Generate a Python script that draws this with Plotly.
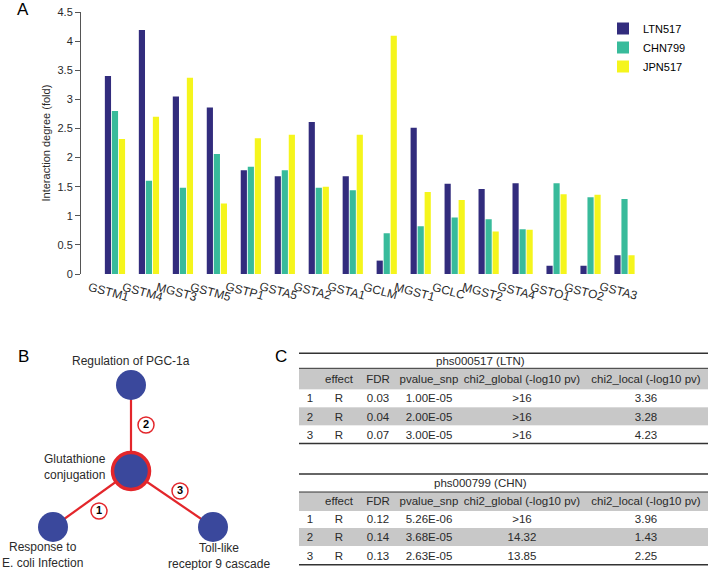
import plotly.graph_objects as go

W, H = 708, 570

# ---------------- Panel A data ----------------
genes = ["GSTM1", "GSTM4", "MGST3", "GSTM5", "GSTP1", "GSTA5", "GSTA2", "GSTA1",
         "GCLM", "MGST1", "GCLC", "MGST2", "GSTA4", "GSTO1", "GSTO2", "GSTA3"]
ltn517 = [3.40, 4.19, 3.05, 2.86, 1.78, 1.68, 2.61, 1.68, 0.23, 2.51, 1.55, 1.46, 1.56, 0.14, 0.14, 0.32]
chn799 = [2.80, 1.60, 1.48, 2.06, 1.84, 1.78, 1.48, 1.44, 0.70, 0.82, 0.97, 0.94, 0.77, 1.56, 1.32, 1.29]
jpn517 = [2.32, 2.70, 3.37, 1.21, 2.33, 2.39, 1.50, 2.39, 4.09, 1.41, 1.27, 0.73, 0.76, 1.37, 1.36, 0.32]
series_names = ["LTN517", "CHN799", "JPN517"]

# ---------------- Panel B data (network layout) ----------------
pathways = ["Regulation of PGC-1a", "Glutathione<br>conjugation",
            "Response to<br>E. coli Infection", "Toll-like<br>receptor 9 cascade"]
node_x = [0, 0, -78, 82]
node_y = [86, 0, -56, -56]
edge_src = [1, 1, 1]
edge_dst = [2, 0, 3]
edge_labels = ["1", "2", "3"]
edge_label_x = [-32, 15, 49]
edge_label_y = [-40, 46, -20]
label_x = [0, -56, -89, 88]
label_y = [110, 4, -84, -84.5]

# ---------------- Panel C data ----------------
table_cols = ["", "effect", "FDR", "pvalue_snp", "chi2_global (-log10 pv)", "chi2_local (-log10 pv)"]
ltn_title = "phs000517 (LTN)"
ltn_rank = ["1", "2", "3"]
ltn_effect = ["R", "R", "R"]
ltn_fdr = ["0.03", "0.04", "0.07"]
ltn_pvalue = ["1.00E-05", "2.00E-05", "3.00E-05"]
ltn_chi2_global = [">16", ">16", ">16"]
ltn_chi2_local = ["3.36", "3.28", "4.23"]
chn_title = "phs000799 (CHN)"
chn_rank = ["1", "2", "3"]
chn_effect = ["R", "R", "R"]
chn_fdr = ["0.12", "0.14", "0.13"]
chn_pvalue = ["5.26E-06", "3.68E-05", "2.63E-05"]
chn_chi2_global = [">16", "14.32", "13.85"]
chn_chi2_local = ["3.96", "1.43", "2.25"]

# ---------------- styles / layout constants ----------------
FONT = "Liberation Sans, Arial, sans-serif"
TXT = "#2a2a2a"
C_LTN, C_CHN, C_JPN = "#322c7d", "#38bb9b", "#f5f51c"
NODE = "#3a489c"
RED = "#e3262b"
GREY = "#c8c8c8"
col_edges = [299, 321, 357, 399, 459, 584, 708]          # table column boundaries (px)
t1_rows = [368.3, 389.3, 407.3, 425.7, 443.3]             # table 1 row boundaries (px)
t2_rows = [492, 510.7, 528, 546.3, 564.7]                 # table 2 row boundaries (px)
row_shade = [1, 0, 1, 0]                                  # header grey, then white/grey/white


def px(x):
    return x / W


def py(y):
    return 1 - y / H


fig = go.Figure()

# Panel A bars
for name, vals, col in zip(series_names, [ltn517, chn799, jpn517], [C_LTN, C_CHN, C_JPN]):
    fig.add_trace(go.Bar(x=genes, y=vals, name=name, marker=dict(color=col, line=dict(width=0)),
                         xaxis="x", yaxis="y"))

annotations = []
for g in genes:
    annotations.append(dict(x=g, y=0, xref="x", yref="y", text=g, showarrow=False,
                            textangle=15, xanchor="center", yanchor="top", yshift=-3, xshift=-6,
                            font=dict(family=FONT, size=12, color=TXT)))
annotations.append(dict(x=px(45.5), y=py(143), xref="paper", yref="paper",
                        text="Interaction degree (fold)", textangle=-90, showarrow=False,
                        xanchor="center", yanchor="middle",
                        font=dict(family=FONT, size=11, color=TXT)))

# Panel B network
for s, d in zip(edge_src, edge_dst):
    fig.add_trace(go.Scatter(x=[node_x[s], node_x[d]], y=[node_y[s], node_y[d]], mode="lines",
                             line=dict(color=RED, width=2.2), xaxis="x2", yaxis="y2",
                             showlegend=False, hoverinfo="skip"))
fig.add_trace(go.Scatter(x=node_x, y=node_y, mode="markers", xaxis="x2", yaxis="y2",
                         marker=dict(color=NODE, size=[30, 37, 30, 30], opacity=1,
                                     line=dict(color=[NODE, RED, NODE, NODE], width=[0, 3.5, 0, 0])),
                         showlegend=False, text=pathways, hoverinfo="text"))
fig.add_trace(go.Scatter(x=edge_label_x, y=edge_label_y, mode="markers+text", xaxis="x2", yaxis="y2",
                         text=["<b>%s</b>" % t for t in edge_labels], textposition="middle center",
                         textfont=dict(family=FONT, size=11, color="black"),
                         marker=dict(color="white", size=16, opacity=1, line=dict(color=RED, width=1.5)),
                         showlegend=False, hoverinfo="skip"))
for t, lx, ly in zip(pathways, label_x, label_y):
    annotations.append(dict(x=lx, y=ly, xref="x2", yref="y2", text=t, showarrow=False,
                            xanchor="center", yanchor="middle",
                            font=dict(family=FONT, size=12, color=TXT)))


# Panel C tables (heatmap cells with text)
def add_table(cols, row_edges):
    rows = [table_cols] + [list(r) for r in zip(*cols)]
    z = [[shade] * len(table_cols) for shade in row_shade]
    fig.add_trace(go.Heatmap(
        x=col_edges, y=row_edges, z=z, text=rows, texttemplate="%{text}",
        textfont=dict(family=FONT, size=11.5, color=TXT),
        colorscale=[[0, "white"], [1, GREY]], zmin=0, zmax=1, showscale=False,
        hoverinfo="skip", xaxis="x3", yaxis="y3"))


add_table([ltn_rank, ltn_effect, ltn_fdr, ltn_pvalue, ltn_chi2_global, ltn_chi2_local], t1_rows)
add_table([chn_rank, chn_effect, chn_fdr, chn_pvalue, chn_chi2_global, chn_chi2_local], t2_rows)

shapes = []
for y, w in [(353.3, 1.6), (368.3, 1.0), (443.5, 1.6), (474, 1.6), (492, 1.0), (564.7, 1.6)]:
    shapes.append(dict(type="line", xref="paper", yref="paper", x0=px(299), x1=1, y0=py(y), y1=py(y),
                       line=dict(color="#333333", width=w)))

annotations += [
    dict(x=px(480), y=py(360.5), xref="paper", yref="paper", text=ltn_title, showarrow=False,
         xanchor="center", yanchor="middle", font=dict(family=FONT, size=11.5, color=TXT)),
    dict(x=px(480), y=py(482.5), xref="paper", yref="paper", text=chn_title, showarrow=False,
         xanchor="center", yanchor="middle", font=dict(family=FONT, size=11.5, color=TXT)),
    dict(x=px(23), y=py(9), xref="paper", yref="paper", text="A", showarrow=False,
         xanchor="center", yanchor="middle", font=dict(family=FONT, size=17, color="black")),
    dict(x=px(23), y=py(356.5), xref="paper", yref="paper", text="B", showarrow=False,
         xanchor="center", yanchor="middle", font=dict(family=FONT, size=17, color="black")),
    dict(x=px(281), y=py(357), xref="paper", yref="paper", text="C", showarrow=False,
         xanchor="center", yanchor="middle", font=dict(family=FONT, size=17, color="black")),
]

fig.update_layout(
    width=W, height=H, margin=dict(l=0, r=0, t=0, b=0, autoexpand=False),
    paper_bgcolor="white", plot_bgcolor="rgba(0,0,0,0)",
    barmode="group", bargap=0.38, bargroupgap=0.12,
    font=dict(family=FONT, size=11, color=TXT),
    xaxis=dict(domain=[px(81), px(641.5)], range=[-1, 15.5], showticklabels=False, automargin=False,
               showline=False, showgrid=False, zeroline=False, ticks=""),
    yaxis=dict(domain=[py(274), py(12)], range=[0, 4.5], dtick=0.5, showline=True, automargin=False,
               linecolor="#555555", linewidth=1, ticks="outside", ticklen=5, tickcolor="#555555",
               showgrid=False, zeroline=False, tickfont=dict(family=FONT, size=11, color=TXT)),
    xaxis2=dict(domain=[0, px(280)], range=[-131, 149], visible=False, automargin=False),
    yaxis2=dict(domain=[0, py(340)], range=[-99, 131], visible=False, automargin=False),
    xaxis3=dict(domain=[px(299), 1], range=[299, 708], visible=False, automargin=False),
    yaxis3=dict(domain=[0, py(340)], range=[570, 340], visible=False, automargin=False),
    legend=dict(x=px(603), y=py(14), xanchor="left", yanchor="top", bgcolor="rgba(0,0,0,0)",
                font=dict(family=FONT, size=11, color="black"), tracegroupgap=0, itemwidth=30),
    shapes=shapes, annotations=annotations,
)

fig.write_html("out.html", post_script="document.body.style.margin='0px';",
               config={"displayModeBar": False})
